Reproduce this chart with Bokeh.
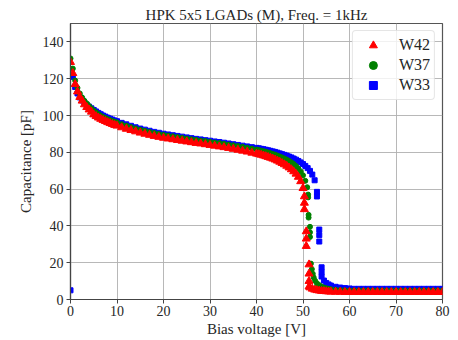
from bokeh.plotting import figure
from bokeh.models import Legend, LegendItem, Range1d, FixedTicker
from bokeh.embed import file_html
from bokeh.resources import INLINE

# ---------------- data ----------------
v_start = [0, 0.5, 1, 1.5, 2, 2.5, 3, 3.5, 4, 4.5, 5, 5.5, 6, 6.5, 7, 7.5, 8, 8.5, 9, 9.5, 10]
v_plateau = [11, 12, 13, 14, 15, 16, 17, 18, 19, 20, 21, 22, 23, 24, 25, 26, 27, 28, 29, 30,
             31, 32, 33, 34, 35, 36, 37, 38, 39, 40]
v_pre = [40.5, 41, 41.5, 42, 42.5, 43, 43.5, 44, 44.5, 45, 45.5, 46, 46.5, 47, 47.5, 48,
         48.5, 49, 49.5, 50]
v_tail = [56, 57, 58, 59, 60, 61, 62, 63, 64, 65, 66, 67, 68, 69, 70, 71, 72, 73, 74, 75,
          76, 77, 78, 79, 80]

# W42 (red)
w42_start = [129, 123, 117, 113, 110, 108, 106, 104.5, 103.2, 102, 100.5, 99.6, 98.8, 98.1,
             97.5, 96.9, 96.3, 95.8, 95.3, 94.8, 94.4]
w42_plateau = [93.5, 92.7, 92.0, 91.3, 90.6, 90.0, 89.4, 88.8, 88.3, 87.8, 87.4, 87.0, 86.6,
               86.2, 85.8, 85.4, 85.0, 84.7, 84.3, 83.9, 83.5, 83.1, 82.7, 82.3, 81.8, 81.3,
               80.8, 80.3, 79.7, 79.2]
w42_pre = [78.9, 78.6, 78.2, 77.8, 77.4, 77.0, 76.5, 76.0, 75.4, 74.8, 74.1, 73.4, 72.6, 71.7,
           70.7, 69.6, 68.3, 66.6, 64.2, 60.5]
w42_knee_v = [50.3, 50.3, 50.3, 50.7, 50.7, 50.7, 51.3, 51.3, 51.3, 51.3, 51.5, 52, 52.5, 53,
              53.5, 54, 54.5, 55, 55.5]
w42_knee_c = [56, 52.5, 49, 37, 33, 29, 19, 14, 10, 7, 6.5, 5.8, 5.3, 5.0, 4.8, 4.6, 4.5, 4.4, 4.3]
w42_tail = [4.2, 4.1, 4.1, 4.0, 4.0, 4.0, 4.0, 4.0, 4.0, 4.0, 4.0, 4.0, 4.0, 4.0, 4.0, 4.0,
            4.0, 4.0, 4.0, 4.0, 4.0, 4.0, 4.0, 4.0, 4.0]

# W37 (green)
w37_start = [131, 125.5, 119, 115, 112, 109.8, 108, 106.5, 105.1, 103.8, 102.6, 101.6, 100.7,
             99.9, 99.2, 98.6, 98.0, 97.5, 97.0, 96.6, 96.2]
w37_plateau = [95.3, 94.5, 93.7, 93.0, 92.3, 91.7, 91.1, 90.5, 90.0, 89.5, 89.1, 88.7, 88.3,
               87.9, 87.5, 87.1, 86.8, 86.4, 86.1, 85.7, 85.3, 85.0, 84.6, 84.2, 83.8, 83.4,
               83.0, 82.5, 82.0, 81.5]
w37_pre = [81.2, 80.9, 80.6, 80.3, 79.9, 79.5, 79.1, 78.7, 78.2, 77.7, 77.2, 76.6, 76.0, 75.3,
           74.5, 73.6, 72.5, 71.2, 69.6, 67.5]
w37_knee_v = [50.5, 50.9, 51.1, 51.1, 51.2, 51.2, 51.5, 51.5, 51.5, 51.7, 51.9, 52.1, 52.3,
              52.6, 53, 53.5, 54, 54.5, 55, 55.5]
w37_knee_c = [64.5, 61, 57, 55.5, 46, 44.5, 39.5, 36.5, 34, 19.5, 16.5, 14, 12, 10.2, 8.8, 7.8,
              7.0, 6.5, 6.1, 5.8]
w37_tail = [5.6, 5.3, 5.1, 5.0, 4.9, 4.9, 4.9, 4.9, 4.9, 4.9, 4.9, 4.9, 4.9, 4.9, 4.9, 4.9,
            4.9, 4.9, 4.9, 4.9, 4.9, 4.9, 4.9, 4.9, 4.9]

# W33 (blue)
w33_start = [5, 121, 115.5, 112, 109.8, 108.2, 106.9, 105.8, 104.8, 103.9, 103.0, 102.2, 101.4,
             100.7, 100.0, 99.4, 98.8, 98.3, 97.8, 97.3, 96.9]
w33_plateau = [96.0, 95.2, 94.4, 93.6, 92.9, 92.3, 91.7, 91.1, 90.6, 90.1, 89.7, 89.3, 88.9,
               88.5, 88.1, 87.7, 87.3, 87.0, 86.6, 86.3, 85.9, 85.6, 85.2, 84.8, 84.4, 84.0,
               83.6, 83.2, 82.8, 82.4]
w33_pre = [82.2, 81.9, 81.7, 81.4, 81.1, 80.8, 80.5, 80.2, 79.8, 79.4, 79.0, 78.6, 78.2, 77.7,
           77.2, 76.6, 76.0, 75.3, 74.5, 73.6]
w33_knee_v = [50.5, 51, 51.5, 52, 52.5, 53, 53, 53.5, 53.5, 53.5, 54, 54, 54, 54.5, 55, 55.5]
w33_knee_c = [72.6, 71.4, 69.9, 67.9, 64.8, 58.5, 56, 38, 35, 31.5, 17.5, 15, 12.5, 10.3, 9.0, 8.2]
w33_tail = [7.6, 6.9, 6.5, 6.2, 6.0, 5.8, 5.8, 5.8, 5.8, 5.8, 5.8, 5.8, 5.8, 5.8, 5.8, 5.8,
            5.8, 5.8, 5.8, 5.8, 5.8, 5.8, 5.8, 5.8, 5.8]

x_ticks = [0, 10, 20, 30, 40, 50, 60, 70, 80]
y_ticks = [0, 20, 40, 60, 80, 100, 120, 140]


def series(knee_v, start, plateau, pre, knee_c, tail):
    v = v_start + v_plateau + v_pre + knee_v + v_tail
    c = start + plateau + pre + knee_c + tail
    return v, c


v42, c42 = series(w42_knee_v, w42_start, w42_plateau, w42_pre, w42_knee_c, w42_tail)
v37, c37 = series(w37_knee_v, w37_start, w37_plateau, w37_pre, w37_knee_c, w37_tail)
v33, c33 = series(w33_knee_v, w33_start, w33_plateau, w33_pre, w33_knee_c, w33_tail)

FONT = "Liberation Serif"
TXT = "#262626"

p = figure(width=458, height=340, output_backend="svg", toolbar_location=None,
           x_range=Range1d(0, 80), y_range=Range1d(0, 150),
           min_border_left=70, min_border_right=16, min_border_top=23, min_border_bottom=41,
           title="HPK 5x5 LGADs (M), Freq. = 1kHz")

p.title.text_font = FONT
p.title.text_font_size = "15px"
p.title.text_font_style = "normal"
p.title.text_color = TXT
p.title.align = "center"
p.title.standoff = 2

p.outline_line_color = "#555555"
p.outline_line_width = 1.2

for ax in (p.xaxis[0], p.yaxis[0]):
    ax.axis_line_color = "#444444"
    ax.axis_line_width = 1.2
    ax.major_tick_line_color = "#444444"
    ax.major_tick_in = 0
    ax.major_tick_out = 4
    ax.minor_tick_line_color = None
    ax.major_label_text_font = FONT
    ax.major_label_text_font_size = "14px"
    ax.major_label_text_color = TXT
    ax.axis_label_text_font = FONT
    ax.axis_label_text_font_size = "15px"
    ax.axis_label_text_font_style = "normal"
    ax.axis_label_text_color = TXT

p.xaxis.major_label_standoff = 2
p.yaxis.major_label_standoff = 3
p.xaxis.ticker = FixedTicker(ticks=x_ticks)
p.yaxis.ticker = FixedTicker(ticks=y_ticks)
p.xaxis.axis_label = "Bias voltage [V]"
p.yaxis.axis_label = "Capacitance [pF]"
p.xaxis.axis_label_standoff = 2
p.yaxis.axis_label_standoff = 6

p.grid.grid_line_color = "#b0b0b0"
p.grid.grid_line_width = 1
p.grid.grid_line_alpha = 0.9

r33 = p.scatter(v33, c33, marker="square", size=5, fill_color="#0000ff", line_color="#0000ff")
r37 = p.scatter(v37, c37, marker="circle", size=5, fill_color="#008000", line_color="#008000")
r42 = p.scatter(v42, c42, marker="triangle", size=8, fill_color="#ff0000", line_color="#ff0000")

legend = Legend(items=[LegendItem(label="W42", renderers=[r42]),
                       LegendItem(label="W37", renderers=[r37]),
                       LegendItem(label="W33", renderers=[r33])],
                location="top_right")
legend.margin = 7
legend.padding = 4
legend.spacing = 0
legend.label_height = 20
legend.glyph_height = 20
legend.glyph_width = 32
legend.label_standoff = 10
legend.label_text_font = FONT
legend.label_text_font_size = "16px"
legend.label_text_color = TXT
legend.border_line_color = "#cccccc"
legend.border_line_width = 1
legend.border_radius = 4
legend.background_fill_alpha = 0.8
p.add_layout(legend, "center")

open("out.html", "w").write(file_html(p, INLINE))
